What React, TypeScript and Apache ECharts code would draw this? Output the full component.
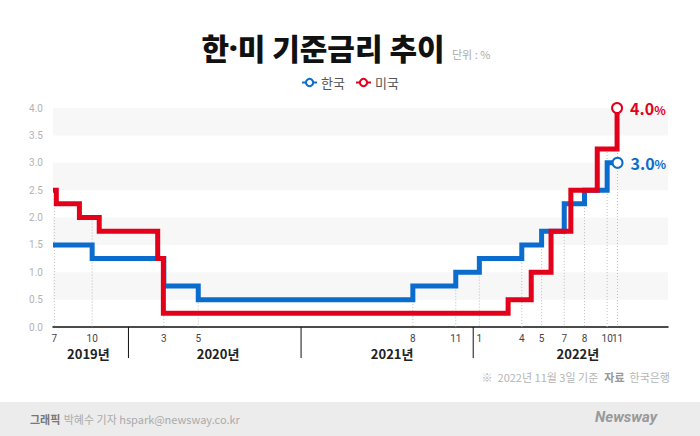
import React, { useEffect, useRef } from "react";
import * as echarts from "echarts";

// ---- data ----
const krDates = ["2019-07-25", "2019-10-16", "2020-03-16", "2020-05-28", "2021-08-26", "2021-11-25", "2022-01-14", "2022-04-14", "2022-05-26", "2022-07-13", "2022-08-25", "2022-10-12", "2022-11-03"];
const krRates = [1.5, 1.25, 0.75, 0.5, 0.75, 1.0, 1.25, 1.5, 1.75, 2.25, 2.5, 3.0, 3.0];
const usDates = ["2019-07-25", "2019-08-01", "2019-09-19", "2019-10-31", "2020-03-03", "2020-03-15", "2022-03-16", "2022-05-04", "2022-06-15", "2022-07-27", "2022-09-21", "2022-11-02"];
const usRates = [2.5, 2.25, 2.0, 1.75, 1.25, 0.25, 0.5, 1.0, 1.75, 2.5, 3.25, 4.0];
const monthTickDates = ["2019-07-28", "2019-10-16", "2020-03-16", "2020-05-28", "2021-08-26", "2021-11-25", "2022-01-14", "2022-04-14", "2022-05-26", "2022-07-13", "2022-08-25", "2022-10-12", "2022-11-03"];
const monthTickLabels = ["7", "10", "3", "5", "8", "11", "1", "4", "5", "7", "8", "10", "11"];
const yearLabels = ["2019년", "2020년", "2021년", "2022년"];
const yearLabelDates = ["2019-10-08", "2020-07-09", "2021-07-13", "2022-08-11"];
const yearBoundaries = ["2020-01-01", "2021-01-01", "2022-01-01"];
const axisMinDate = "2019-07-25";
const axisMaxDate = "2023-02-18";

const BLUE = "#0a6ccc";
const RED = "#e2001a";
const FONT = "'Noto Sans CJK KR', 'Noto Sans', sans-serif";

function rateAt(dates: string[], rates: number[], d: string): number {
  let v = rates[0];
  const t = new Date(d).getTime();
  dates.forEach((x, i) => {
    if (new Date(x).getTime() <= t) v = rates[i];
  });
  return v;
}

function lineData(dates: string[], rates: number[], color: string) {
  const last = dates.length - 1;
  return dates.map((d, i) =>
    i === last
      ? {
          value: [d, rates[i]],
          symbol: "emptyCircle",
          symbolSize: 10,
          label: {
            show: true,
            position: "right",
            distance: 7,
            formatter: "{a|" + rates[i].toFixed(1) + "}{b|%}",
            rich: {
              a: { fontSize: 16, fontWeight: "bold", color, fontFamily: FONT },
              b: { fontSize: 12, fontWeight: "bold", color, fontFamily: FONT, padding: [2, 0, 0, 0] },
            },
          },
        }
      : { value: [d, rates[i]], symbol: "none" }
  );
}

export default function App() {
  const ref = useRef<HTMLDivElement>(null);
  useEffect(() => {
    document.body.style.margin = "0";
    const chart = echarts.init(ref.current!, null, { renderer: "svg" });
    const dotted = monthTickDates.map((d) => [d, Math.max(rateAt(krDates, krRates, d), rateAt(usDates, usRates, d))]);
    chart.setOption({
      animation: false,
      backgroundColor: "#ffffff",
      grid: { left: 53, right: 32, top: 108, bottom: 109 },
      legend: {
        top: 71,
        left: "center",
        itemWidth: 15,
        itemHeight: 9,
        itemGap: 10,
        data: ["한국", "미국"],
        textStyle: { color: "#555", fontSize: 13, fontFamily: FONT, padding: [0, 0, 0, -1] },
      },
      xAxis: {
        type: "time",
        min: axisMinDate,
        max: axisMaxDate,
        axisLine: { show: true, lineStyle: { color: "#111", width: 1.5 } },
        axisTick: { show: false },
        axisLabel: { show: false },
        splitLine: { show: false },
      },
      yAxis: {
        type: "value",
        min: 0,
        max: 4,
        interval: 0.5,
        axisLine: { show: false },
        axisTick: { show: false },
        splitLine: { show: false },
        axisLabel: {
          color: "#b3b3b3",
          fontSize: 10,
          margin: 10,
          fontFamily: "Roboto, sans-serif",
          formatter: (v: number) => v.toFixed(1),
        },
        splitArea: { show: true, areaStyle: { color: ["rgba(255,255,255,0)", "#f7f7f7"] } },
      },
      graphic: [
        {
          type: "text",
          x: 323,
          y: 47,
          style: {
            text: "{h|한}{d|·}{h|미 기준금리 추이}",
            align: "center",
            verticalAlign: "middle",
            rich: {
              h: { fill: "#111", fontSize: 30, fontWeight: 900, fontFamily: FONT },
              d: { fill: "#111", fontSize: 30, fontWeight: 900, fontFamily: "'Noto Sans', sans-serif" },
            },
          },
        },
        {
          type: "text",
          x: 452,
          y: 54,
          style: { text: "단위 : %", fill: "#aaa", fontSize: 11, fontFamily: FONT, align: "left", verticalAlign: "middle" },
        },
        {
          type: "text",
          x: 670,
          y: 377,
          style: {
            text: "{g|※  2022년 11월 3일 기준}{s|  }{b|자료}{g|  한국은행}",
            align: "right",
            verticalAlign: "middle",
            rich: {
              g: { fill: "#b5b5b5", fontSize: 11, fontFamily: FONT },
              s: { fontSize: 11 },
              b: { fill: "#999", fontSize: 11, fontWeight: "bold", fontFamily: FONT },
            },
          },
        },
        { type: "rect", shape: { x: 0, y: 402, width: 700, height: 34 }, style: { fill: "#ececec" } },
        {
          type: "text",
          x: 30,
          y: 419,
          style: {
            text: "{b|그래픽} {g|박혜수 기자 hspark@newsway.co.kr}",
            verticalAlign: "middle",
            rich: {
              b: { fill: "#777", fontSize: 11, fontWeight: "bold", fontFamily: FONT },
              g: { fill: "#aaa", fontSize: 11, fontFamily: FONT },
            },
          },
        },
        {
          type: "text",
          x: 657,
          y: 417,
          style: {
            text: "Newsway",
            fill: "#999",
            fontSize: 15,
            fontWeight: "bold",
            fontStyle: "italic",
            fontFamily: "'Liberation Sans Narrow', 'Roboto', sans-serif",
            align: "right",
            verticalAlign: "middle",
          },
        },
      ],
      series: [
        {
          type: "custom",
          name: "dotted",
          clip: false,
          silent: true,
          data: dotted,
          encode: { x: 0, y: 1 },
          renderItem: (params: any, api: any) => {
            const top = api.coord([api.value(0), api.value(1)]);
            const bot = api.coord([api.value(0), 0]);
            return {
              type: "line",
              shape: { x1: top[0], y1: top[1], x2: bot[0], y2: bot[1] },
              style: { stroke: "#bdbdbd", lineWidth: 1, lineDash: [1, 2] },
            };
          },
        },
        {
          name: "한국",
          type: "line",
          step: "end",
          symbol: "emptyCircle",
          symbolSize: 10,
          showSymbol: true,
          data: lineData(krDates, krRates, BLUE),
          lineStyle: { width: 5, color: BLUE, join: "miter", cap: "butt" },
          itemStyle: { color: BLUE, borderWidth: 3 },
          z: 3,
        },
        {
          name: "미국",
          type: "line",
          step: "end",
          symbol: "emptyCircle",
          symbolSize: 10,
          showSymbol: true,
          data: lineData(usDates, usRates, RED),
          lineStyle: { width: 5, color: RED, join: "miter", cap: "butt" },
          itemStyle: { color: RED, borderWidth: 3 },
          z: 4,
        },
        {
          type: "custom",
          name: "monthLabels",
          clip: false,
          silent: true,
          data: monthTickDates.map((d) => [d, 0]),
          encode: { x: 0, y: 1 },
          renderItem: (params: any, api: any) => {
            const p = api.coord([api.value(0), 0]);
            return {
              type: "text",
              x: p[0],
              y: p[1] + 11,
              style: {
                text: monthTickLabels[params.dataIndex],
                fill: "#444",
                fontSize: 10,
                fontFamily: "Roboto, sans-serif",
                align: "center",
                verticalAlign: "middle",
              },
            };
          },
        },
        {
          type: "custom",
          name: "yearLabels",
          clip: false,
          silent: true,
          data: yearLabelDates.map((d) => [d, 0]),
          encode: { x: 0, y: 1 },
          renderItem: (params: any, api: any) => {
            const p = api.coord([api.value(0), 0]);
            return {
              type: "text",
              x: p[0],
              y: p[1] + 26,
              style: {
                text: yearLabels[params.dataIndex],
                fill: "#222",
                fontSize: 13,
                fontWeight: "bold",
                fontFamily: FONT,
                align: "center",
                verticalAlign: "middle",
              },
            };
          },
        },
        {
          type: "custom",
          name: "yearSeparators",
          clip: false,
          silent: true,
          data: yearBoundaries.map((d) => [d, 0]),
          encode: { x: 0, y: 1 },
          renderItem: (params: any, api: any) => {
            const p = api.coord([api.value(0), 0]);
            return {
              type: "line",
              shape: { x1: p[0], y1: p[1], x2: p[0], y2: p[1] + 31 },
              style: { stroke: "#111", lineWidth: 1 },
            };
          },
        },
      ],
    });
    return () => chart.dispose();
  }, []);
  return <div ref={ref} style={{ width: 700, height: 436 }} />;
}
